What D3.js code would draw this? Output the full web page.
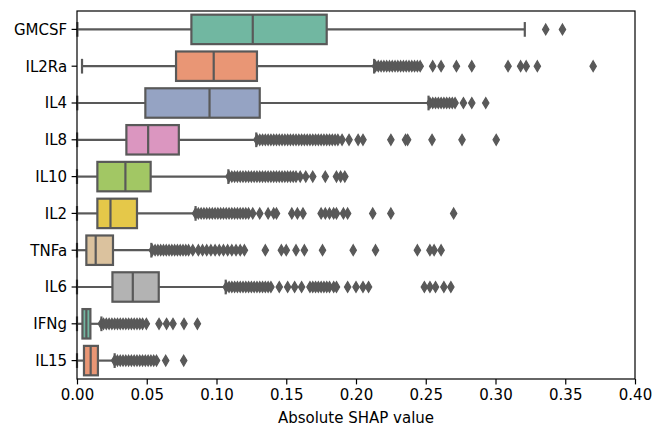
<!doctype html>
<html lang="en">
<head>
    <meta charset="UTF-8">
    <title>Absolute SHAP value</title>
    <script src="https://cdn.jsdelivr.net/npm/d3@7"></script>
    <style>
        body{
            margin:0;
            background:#ffffff;
            font-family: "DejaVu Sans", sans-serif;
        }
        .tick text{
            font-size:15px;
            fill:#000000;
        }
        .axisLabel{
            font-size:15px;
        }
    </style>
</head>
<body>
<svg width="664" height="438"></svg>
<script>
    // categories, top to bottom
    const cytokines = ["GMCSF","IL2Ra","IL4","IL8","IL10","IL2","TNFa","IL6","IFNg","IL15"];

    // box statistics
    const q1      = [0.082, 0.071, 0.049, 0.0354, 0.0146, 0.0146, 0.0067, 0.0254, 0.0039, 0.0050];
    const medians = [0.126, 0.098, 0.095, 0.051,  0.0347, 0.024,  0.0134, 0.040,  0.0067, 0.0098];
    const q3      = [0.179, 0.129, 0.131, 0.073,  0.0528, 0.043,  0.0258, 0.0586, 0.0096, 0.0150];
    const whiskLo = [0.0003, 0.0036, 0.0002, 0.0001, 0.0, 0.0, 0.0, 0.0, 0.0, 0.0];
    const whiskHi = [0.321, 0.213, 0.252, 0.1285, 0.1085, 0.085, 0.0533, 0.1066, 0.0175, 0.027];

    // outliers (fliers) per cytokine
    const outGMCSF = [0.336, 0.348];
    const outIL2Ra = [0.214,0.216,0.218,0.220,0.222,0.224,0.226,0.228,0.230,0.232,0.234,0.236,0.238,0.240,0.242,0.244,0.246,
                      0.255,0.261,0.272,0.283,0.309,0.318,0.322,0.330,0.370];
    const outIL4   = [0.253,0.255,0.257,0.259,0.261,0.263,0.265,0.267,0.269,0.271,0.277,0.283,0.293];
    const outIL8   = [0.129,0.131,0.133,0.135,0.137,0.139,0.141,0.143,0.145,0.147,0.149,0.151,0.153,0.155,0.157,0.159,
                      0.161,0.163,0.165,0.167,0.169,0.171,0.173,0.175,0.177,0.179,0.181,0.183,0.185,0.187,0.190,
                      0.195,0.2015,0.205,0.225,0.2355,0.237,0.2545,0.276,0.3005];
    const outIL10  = [0.109,0.111,0.113,0.115,0.117,0.119,0.121,0.123,0.125,0.127,0.129,0.131,0.133,0.135,0.137,0.139,
                      0.141,0.143,0.145,0.147,0.149,0.151,0.153,0.155,0.157,0.160,0.164,0.169,0.178,0.186,0.189,0.192];
    const outIL2   = [0.085,0.087,0.089,0.091,0.093,0.095,0.097,0.099,0.101,0.103,0.105,0.107,0.109,0.111,0.113,0.115,
                      0.117,0.119,0.121,0.123,0.126,0.131,0.137,0.141,0.143,0.154,0.158,0.162,0.175,0.178,0.181,
                      0.184,0.186,0.191,0.194,0.212,0.225,0.270];
    const outTNFa  = [0.054,0.056,0.058,0.060,0.062,0.064,0.066,0.068,0.070,0.072,0.074,0.076,0.078,0.080,0.083,
                      0.087,0.090,0.093,0.096,0.099,0.102,0.105,0.108,0.111,0.114,0.117,0.120,
                      0.135,0.1465,0.150,0.157,0.163,0.176,0.198,0.214,0.244,0.253,0.256,0.261];
    const outIL6   = [0.107,0.109,0.111,0.113,0.115,0.117,0.119,0.121,0.123,0.125,0.127,0.129,0.131,0.133,0.135,0.137,
                      0.139,0.145,0.151,0.156,0.161,0.167,0.169,0.171,0.173,0.175,0.177,0.179,0.181,0.184,0.186,
                      0.194,0.200,0.205,0.209,0.249,0.253,0.257,0.263,0.268];
    const outIFNg  = [0.0175,0.019,0.021,0.023,0.025,0.027,0.029,0.031,0.033,0.035,0.037,0.039,0.041,0.043,0.045,0.047,
                      0.0497,0.0588,0.0642,0.0688,0.0767,0.0863];
    const outIL15  = [0.027,0.029,0.031,0.033,0.035,0.037,0.039,0.041,0.043,0.045,0.047,0.049,0.051,0.053,0.055,0.057,
                      0.0636,0.0765];
    const outliers = [outGMCSF,outIL2Ra,outIL4,outIL8,outIL10,outIL2,outTNFa,outIL6,outIFNg,outIL15];

    // seaborn Set2, desaturated to 0.75, cycles after 8
    const palette = ["#71b7a1","#e99675","#95a3c3","#db96c0","#a2c764","#e5c849","#dbc29e","#b3b3b3"];

    const xTicks = [0,0.05,0.10,0.15,0.20,0.25,0.30,0.35,0.40];

    const margin = {top:11, right:29, bottom:59, left:77};
    const width = 664 - margin.left - margin.right;
    const height = 438 - margin.top - margin.bottom;
    const gray = "#595959";

    let svg = d3.select("svg");
    let g = svg.append("g").attr("transform",`translate(${margin.left},${margin.top})`);

    let x = d3.scaleLinear().domain([0,0.40]).range([0,width]);
    let y = d3.scaleBand().domain(cytokines).range([0,height]).padding(0);

    const boxH = y.bandwidth()*0.8;
    const capH = boxH/2;

    let rows = cytokines.map((c,i)=>({
        name:c, q1:q1[i], med:medians[i], q3:q3[i], lo:whiskLo[i], hi:whiskHi[i],
        out:outliers[i], color:palette[i%palette.length]
    }));

    let row = g.selectAll(".row").data(rows).enter().append("g")
        .attr("class","row")
        .attr("transform",d=>`translate(0,${y(d.name)+y.bandwidth()/2})`);

    // box
    row.append("rect")
        .attr("x",d=>x(d.q1)).attr("y",-boxH/2)
        .attr("width",d=>x(d.q3)-x(d.q1)).attr("height",boxH)
        .attr("fill",d=>d.color).attr("stroke",gray).attr("stroke-width",2.2);

    // whiskers
    row.append("line")
        .attr("x1",d=>x(d.lo)).attr("x2",d=>x(d.q1)).attr("y1",0).attr("y2",0)
        .attr("stroke",gray).attr("stroke-width",2.2);
    row.append("line")
        .attr("x1",d=>x(d.q3)).attr("x2",d=>x(d.hi)).attr("y1",0).attr("y2",0)
        .attr("stroke",gray).attr("stroke-width",2.2);

    // caps
    row.selectAll(".cap").data(d=>[d.lo,d.hi]).enter().append("line")
        .attr("class","cap")
        .attr("x1",v=>x(v)).attr("x2",v=>x(v)).attr("y1",-capH/2).attr("y2",capH/2)
        .attr("stroke",gray).attr("stroke-width",2.2);

    // median
    row.append("line")
        .attr("x1",d=>x(d.med)).attr("x2",d=>x(d.med)).attr("y1",-boxH/2).attr("y2",boxH/2)
        .attr("stroke",gray).attr("stroke-width",2.2);

    // fliers, thin diamonds
    row.selectAll(".flier").data(d=>d.out).enter().append("path")
        .attr("class","flier")
        .attr("d","M0,-5.4L3.2,0L0,5.4L-3.2,0Z")
        .attr("transform",v=>`translate(${x(v)},0)`)
        .attr("fill",gray).attr("stroke",gray).attr("stroke-width",1.2);

    // axes
    let xAxis = g.append("g").attr("transform",`translate(0,${height})`)
        .call(d3.axisBottom(x).tickValues(xTicks).tickFormat(d3.format(".2f")).tickSize(5.4).tickPadding(4.5));
    let yAxis = g.append("g")
        .call(d3.axisLeft(y).tickSize(5.4).tickPadding(4.5));
    [xAxis,yAxis].forEach(a=>{
        a.selectAll("path").remove();
        a.selectAll("line").attr("stroke","#000").attr("stroke-width",1.2);
        a.selectAll("text").attr("font-family","DejaVu Sans").style("font-size","15px");
    });
    yAxis.selectAll("text").attr("dy","0.36em");

    // frame
    g.append("rect").attr("x",0).attr("y",0).attr("width",width).attr("height",height)
        .attr("fill","none").attr("stroke","#000").attr("stroke-width",1.2);

    g.append("text").attr("class","axisLabel")
        .attr("x",width/2).attr("y",height+44)
        .attr("text-anchor","middle")
        .attr("font-family","DejaVu Sans")
        .text("Absolute SHAP value");
</script>
</body>
</html>
